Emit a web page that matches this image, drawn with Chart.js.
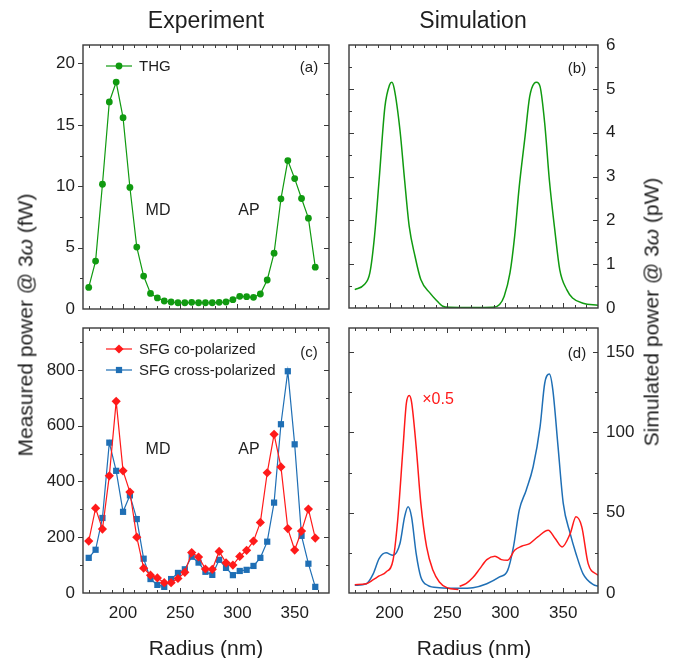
<!DOCTYPE html>
<html>
<head>
<meta charset="utf-8">
<script src="https://cdn.jsdelivr.net/npm/chart.js@4.4.0/dist/chart.umd.min.js"></script>
<style>
  html, body { margin: 0; padding: 0; background: #fff; }
  #wrap { position: relative; width: 678px; height: 658px; overflow: hidden;
          font-family: "Liberation Sans", Arial, sans-serif; color: #1e1e1e; }
  #wrap canvas { position: absolute; left: 0; top: 0; }
  .txt { position: absolute; transform: translate(-50%, -50%); white-space: nowrap; line-height: 1; }
  .vert { transform: translate(-50%, -50%) rotate(-90deg); }
</style>
</head>
<body>
<div id="wrap">
  <canvas id="pa" width="678" height="658"></canvas>
  <canvas id="pb" width="678" height="658"></canvas>
  <canvas id="pc" width="678" height="658"></canvas>
  <canvas id="pd" width="678" height="658"></canvas>

  <div class="txt" style="left:206px;top:20px;font-size:23px">Experiment</div>
  <div class="txt" style="left:473px;top:20px;font-size:23px">Simulation</div>
  <div class="txt vert" style="left:25px;top:325px;font-size:21px">Measured power @ 3<i>ω</i> (fW)</div>
  <div class="txt vert" style="left:651px;top:312px;font-size:21px">Simulated power @ 3<i>ω</i> (pW)</div>
  <div class="txt" style="left:206px;top:647px;font-size:21px">Radius (nm)</div>
  <div class="txt" style="left:474px;top:647px;font-size:21px">Radius (nm)</div>

  <div class="txt" style="left:158px;top:210px;font-size:16px">MD</div>
  <div class="txt" style="left:249px;top:210px;font-size:16px">AP</div>
  <div class="txt" style="left:309px;top:66px;font-size:15px">(a)</div>
  <div class="txt" style="left:577px;top:67px;font-size:15px">(b)</div>
  <div class="txt" style="left:158px;top:449px;font-size:16px">MD</div>
  <div class="txt" style="left:249px;top:449px;font-size:16px">AP</div>
  <div class="txt" style="left:309px;top:351px;font-size:15px">(c)</div>
  <div class="txt" style="left:577px;top:352px;font-size:15px">(d)</div>
  <div class="txt" style="left:438px;top:399px;font-size:16px;color:#ff1a1a">×0.5</div>
</div>

<script>
// measured (a), (c)
const radius = [170, 176, 182, 188, 194, 200, 206, 212, 218, 224, 230, 236, 242, 248, 254, 260, 266,
                272, 278, 284, 290, 296, 302, 308, 314, 320, 326, 332, 338, 344, 350, 356, 362, 368];
const thg = [1.76, 3.9, 10.16, 16.86, 18.48, 15.58, 9.9, 5.04, 2.68, 1.27, 0.9, 0.65, 0.57, 0.51, 0.51, 0.54, 0.51,
             0.51, 0.51, 0.54, 0.57, 0.76, 1.03, 1.0, 0.95, 1.22, 2.36, 4.55, 8.97, 12.09, 10.62, 9.0, 7.4, 3.41];
const sfgCo = [186, 304, 229, 420, 687, 438, 362, 200, 89, 64, 54, 37, 37, 52, 74, 145, 129,
               86, 85, 149, 108, 100, 131, 153, 186, 253, 431, 569, 452, 231, 154, 222, 301, 197];
const sfgCross = [126, 155, 269, 539, 438, 291, 350, 265, 123, 50, 29, 22, 50, 72, 85, 130, 109,
                  76, 65, 119, 90, 64, 79, 83, 97, 126, 184, 324, 605, 795, 533, 205, 105, 22];

// simulated (b)
const simThgR = [170, 178, 183, 187, 191, 196, 200, 202, 204, 209, 213, 217, 222, 227, 235, 240, 246, 252, 272,
                 289, 295, 299, 304, 308, 312, 317, 321, 325, 327, 330, 334, 338, 343, 347, 353, 358, 367, 380];
const simThg = [0.42, 0.53, 0.8, 1.63, 2.92, 4.59, 5.09, 5.15, 5.01, 4.06, 2.92, 1.86, 1.18, 0.65, 0.34, 0.19, 0.04, 0.015, 0.01,
                0.015, 0.08, 0.27, 0.8, 1.63, 2.77, 3.91, 4.82, 5.13, 5.15, 5.05, 4.21, 2.92, 1.71, 0.87, 0.42, 0.23, 0.11, 0.06];

// simulated (d); the co-polarized curve is broken at 260 nm
const simCoR = [170, 180, 186, 191, 197, 203, 207, 211.5, 214.5, 217, 219, 223, 227, 232, 237.5, 243, 250, 259.5,
                260, 260.5, 266, 272, 278, 284, 291, 296.5, 302, 308, 314, 321, 328, 337, 343, 349, 356, 361, 366, 371.5, 380];
const simCo = [5.2, 5.8, 8.3, 10.6, 13.1, 20.4, 45, 89, 118, 123, 119, 91, 56, 28.7, 14.1, 6.9, 3.1, 2.2,
               null, 4.2, 5.8, 9.6, 15.2, 20.8, 22.9, 20.8, 20.4, 26.6, 29.1, 30.8, 34.9, 39.1, 33.9, 28.7, 37, 47.4, 41.2, 18.3, 11];
const simCrossR = [170, 180, 186, 191, 197, 203, 209, 213, 216, 219, 223, 227, 233, 243, 260, 272, 284,
                   295, 302, 307, 312, 318, 324, 330, 334, 338, 341, 345.5, 350, 356, 361, 367, 376, 380];
const simCross = [4.8, 5.8, 12.1, 21.4, 25, 23.5, 30.8, 47.4, 53.7, 47.4, 24.5, 10, 4.8, 3.3, 2.9, 3.3, 5.8,
                  10, 14.1, 28.7, 51.6, 64, 78.6, 103.6, 130.6, 136.3, 126.5, 91.1, 55.8, 37, 24.5, 12.1, 5.2, 4.4];

const GREEN = '#109a10';
const RED = '#ff1a1a';
const BLUE = '#1f6fb5';
const TICK_FONT = { family: '"Liberation Sans", Arial, sans-serif', size: 17 };

const zip = (xs, ys) => xs.map((x, i) => ({ x: x, y: ys[i] }));

function drawMarker(ctx, style, x, y, r, color) {
  ctx.fillStyle = color;
  ctx.beginPath();
  if (style === 'rectRot') {
    ctx.moveTo(x, y - r); ctx.lineTo(x + r, y); ctx.lineTo(x, y + r); ctx.lineTo(x - r, y);
    ctx.closePath();
  } else if (style === 'rect') {
    const s = r * Math.SQRT1_2;
    ctx.rect(x - s, y - s, 2 * s, 2 * s);
  } else {
    ctx.arc(x, y, r, 0, Math.PI * 2);
  }
  ctx.fill();
}

// box frame with inward ticks on all sides, plus a line+marker legend
const framePlugin = {
  id: 'frame',
  afterDatasetsDraw(chart, args, opts) {
    const ctx = chart.ctx;
    const a = chart.chartArea;
    const xs = chart.scales.x, ys = chart.scales.y;
    const seg = (x1, y1, x2, y2) => { ctx.beginPath(); ctx.moveTo(x1, y1); ctx.lineTo(x2, y2); ctx.stroke(); };
    ctx.save();
    ctx.strokeStyle = '#3a3a3a';
    ctx.lineWidth = 1;
    xs.ticks.forEach(t => {
      const px = Math.round(xs.getPixelForValue(t.value)) + 0.5;
      if (px <= a.left + 1 || px >= a.right - 1) return;
      const len = t.value % opts.xMajor === 0 ? 5 : 3;
      seg(px, a.bottom, px, a.bottom - len);
      seg(px, a.top, px, a.top + len);
    });
    ys.ticks.forEach(t => {
      const py = Math.round(ys.getPixelForValue(t.value)) + 0.5;
      if (py <= a.top + 1 || py >= a.bottom - 1) return;
      const len = t.value % opts.yMajor === 0 ? 5 : 3;
      if (opts.leftOut) seg(a.left, py, a.left - len, py);
      else seg(a.left, py, a.left + len, py);
      seg(a.right, py, a.right - len, py);
    });
    ctx.lineWidth = 1.4;
    ctx.strokeRect(a.left, a.top, a.right - a.left, a.bottom - a.top);

    if (opts.legend) {
      const L = opts.legend;
      ctx.font = '15px "Liberation Sans", Arial, sans-serif';
      ctx.textBaseline = 'middle';
      chart.data.datasets.forEach((ds, i) => {
        const y = L.y + i * L.gap;
        ctx.strokeStyle = ds.borderColor;
        ctx.lineWidth = ds.borderWidth;
        seg(L.x, y, L.x + 26, y);
        drawMarker(ctx, ds.pointStyle, L.x + 13, y, ds.pointRadius, ds.pointBackgroundColor);
        ctx.fillStyle = '#1e1e1e';
        ctx.fillText(ds.label, L.x + 33, y + 0.5);
      });
    }
    ctx.restore();
  }
};

function panel(id, datasets, cfg) {
  return new Chart(document.getElementById(id), {
    type: 'line',
    data: { datasets: datasets },
    options: {
      responsive: false,
      animation: false,
      events: [],
      layout: { padding: cfg.pad },
      plugins: {
        legend: { display: false },
        tooltip: { enabled: false },
        frame: cfg.frame
      },
      scales: {
        x: {
          type: 'linear',
          min: 165,
          max: 380,
          grid: { display: false, drawTicks: false, tickLength: 0 },
          border: { display: false },
          ticks: {
            display: cfg.xLabels,
            stepSize: 10,
            autoSkip: false,
            maxRotation: 0,
            includeBounds: false,
            padding: 10,
            font: TICK_FONT,
            color: '#1e1e1e',
            callback: v => (v % 50 === 0 ? String(v) : '')
          },
          afterFit: s => { s.height = cfg.xLabels ? 65 : 0; }
        },
        y: {
          type: 'linear',
          position: cfg.yPos,
          min: 0,
          max: cfg.yMax,
          grid: { display: false, drawTicks: false, tickLength: 0 },
          border: { display: false },
          ticks: {
            stepSize: cfg.yStep,
            autoSkip: false,
            includeBounds: false,
            padding: 8,
            font: TICK_FONT,
            color: '#1e1e1e',
            callback: v => (v % cfg.frame.yMajor === 0 ? String(v) : '')
          },
          afterFit: s => { s.width = cfg.yWidth; }
        }
      }
    },
    plugins: [framePlugin]
  });
}

const expLine = (label, data, color, style, r) => ({
  label: label, data: data, borderColor: color, borderWidth: 1.2,
  pointStyle: style, pointRadius: r, pointBackgroundColor: color, pointBorderWidth: 0,
  tension: 0, fill: false
});
const simLine = (data, color) => ({
  data: data, borderColor: color, borderWidth: 1.5, pointRadius: 0,
  cubicInterpolationMode: 'monotone', spanGaps: false, fill: false
});

panel('pa', [expLine('THG', zip(radius, thg), GREEN, 'circle', 3.4)], {
  pad: { left: 0, top: 45, right: 349, bottom: 349 },
  yPos: 'left', yWidth: 83, yMax: 21.5, yStep: 2.5, xLabels: false,
  frame: { xMajor: 50, yMajor: 5, leftOut: true, legend: { x: 106, y: 66, gap: 21 } }
});

panel('pb', [simLine(zip(simThgR, simThg), GREEN)], {
  pad: { left: 349, top: 45, right: 0, bottom: 350 },
  yPos: 'right', yWidth: 80, yMax: 6, yStep: 0.5, xLabels: false,
  frame: { xMajor: 50, yMajor: 1, leftOut: false }
});

panel('pc', [
  expLine('SFG co-polarized', zip(radius, sfgCo), RED, 'rectRot', 4.6),
  expLine('SFG cross-polarized', zip(radius, sfgCross), BLUE, 'rect', 4.4)
], {
  pad: { left: 0, top: 328, right: 349, bottom: 0 },
  yPos: 'left', yWidth: 83, yMax: 950, yStep: 100, xLabels: true,
  frame: { xMajor: 50, yMajor: 200, leftOut: true, legend: { x: 106, y: 349, gap: 21 } }
});

panel('pd', [
  simLine(zip(simCoR, simCo), RED),
  simLine(zip(simCrossR, simCross), BLUE)
], {
  pad: { left: 349, top: 328, right: 0, bottom: 0 },
  yPos: 'right', yWidth: 80, yMax: 165, yStep: 25, xLabels: true,
  frame: { xMajor: 50, yMajor: 50, leftOut: false }
});
</script>
</body>
</html>
